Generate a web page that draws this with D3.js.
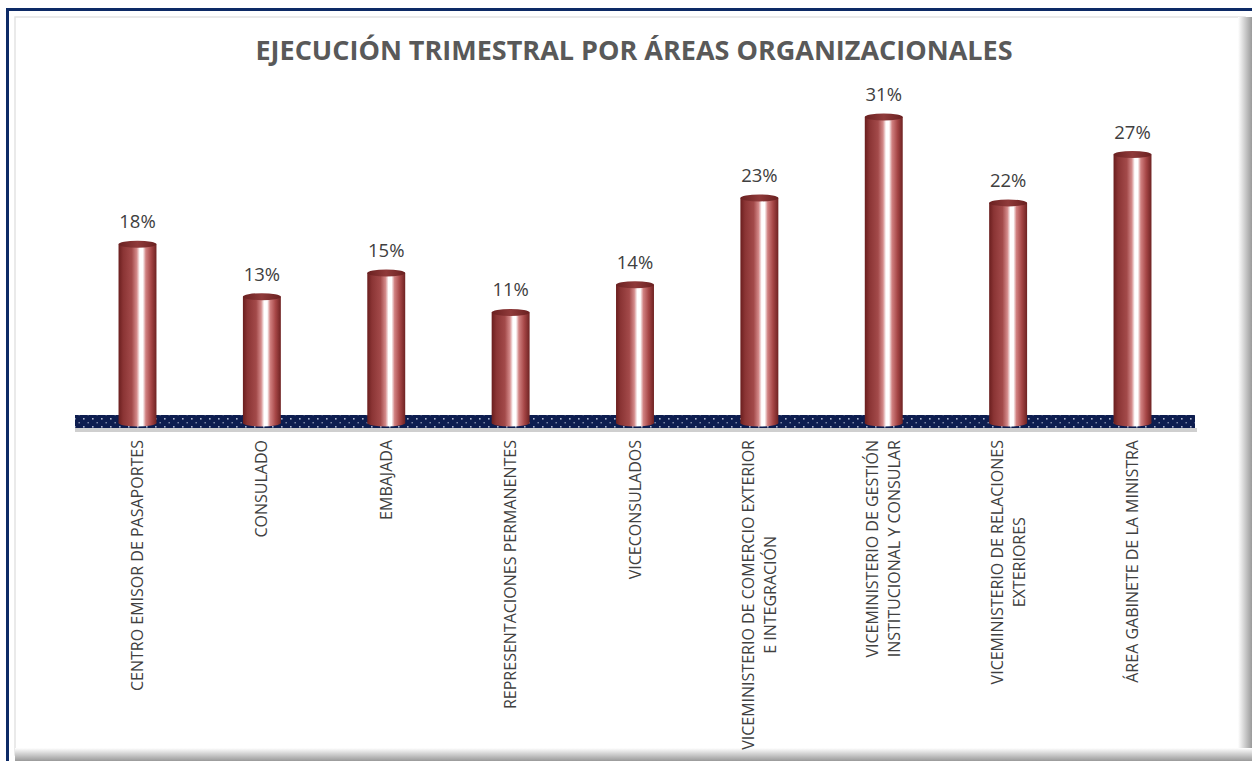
<!DOCTYPE html>
<html><head><meta charset="utf-8">
<script src="https://cdn.jsdelivr.net/npm/d3@7"></script>
<style>html,body{margin:0;padding:0;background:#fff;}svg{display:block;}</style>
</head><body>
<svg id="chart" width="1252" height="761"></svg>
<script>
const categories = [
  ["CENTRO EMISOR DE PASAPORTES"],
  ["CONSULADO"],
  ["EMBAJADA"],
  ["REPRESENTACIONES PERMANENTES"],
  ["VICECONSULADOS"],
  ["VICEMINISTERIO DE COMERCIO EXTERIOR", "E INTEGRACIÓN"],
  ["VICEMINISTERIO DE GESTIÓN", "INSTITUCIONAL Y CONSULAR"],
  ["VICEMINISTERIO DE RELACIONES", "EXTERIORES"],
  ["ÁREA GABINETE DE LA MINISTRA"]
];
const values = [18.1, 12.8, 15.2, 11.2, 14.0, 22.8, 31.0, 22.3, 27.2];
const valueLabels = ["18%", "13%", "15%", "11%", "14%", "23%", "31%", "22%", "27%"];
const title = "EJECUCIÓN TRIMESTRAL POR ÁREAS ORGANIZACIONALES";

const svg = d3.select("#chart");
const defs = svg.append("defs");

const gR = defs.append("linearGradient").attr("id","shR").attr("x1","0").attr("x2","1").attr("y1","0").attr("y2","0");
gR.append("stop").attr("offset","0").attr("stop-color","#ffffff");
gR.append("stop").attr("offset","1").attr("stop-color","#9a9a9a");
const gB = defs.append("linearGradient").attr("id","shB").attr("x1","0").attr("x2","0").attr("y1","0").attr("y2","1");
gB.append("stop").attr("offset","0").attr("stop-color","#ffffff");
gB.append("stop").attr("offset","1").attr("stop-color","#9a9a9a");

const cg = defs.append("linearGradient").attr("id","cyl").attr("x1","0").attr("x2","1").attr("y1","0").attr("y2","0");
[["0","#6a1e1e"],["0.12","#8a3434"],["0.35","#a34a4a"],["0.48","#d48a8a"],["0.56","#ffffff"],["0.64","#ffffff"],["0.72","#d08080"],["0.86","#a64646"],["1","#6e2222"]]
  .forEach(([o,c]) => cg.append("stop").attr("offset",o).attr("stop-color",c));
const tg = defs.append("linearGradient").attr("id","cap").attr("x1","0").attr("x2","1").attr("y1","0").attr("y2","0");
[["0","#6a2020"],["0.5","#8f3a3a"],["1","#6a2020"]].forEach(([o,c]) => tg.append("stop").attr("offset",o).attr("stop-color",c));

const pat = defs.append("pattern").attr("id","dots").attr("patternUnits","userSpaceOnUse").attr("width",9).attr("height",8);
pat.append("rect").attr("width",9).attr("height",8).attr("fill","#0d1d4f");
pat.append("rect").attr("x",2).attr("y",2).attr("width",1.6).attr("height",1.6).attr("fill","#aab4cc");
pat.append("rect").attr("x",6.5).attr("y",6).attr("width",1.4).attr("height",1.4).attr("fill","#8893b0");

svg.append("rect").attr("x",7.5).attr("y",9.5).attr("width",1250).attr("height",760).attr("fill","none").attr("stroke","#0d2a66").attr("stroke-width",3);
svg.append("rect").attr("x",15).attr("y",17).attr("width",1230).attr("height",738).attr("fill","#fff").attr("stroke","#e4e4e4").attr("stroke-width",1.5);
svg.append("rect").attr("x",1238).attr("y",17).attr("width",14).attr("height",744).attr("fill","url(#shR)");
svg.append("rect").attr("x",15).attr("y",748).attr("width",1237).attr("height",13).attr("fill","url(#shB)");

svg.append("text").attr("x",634).attr("y",60).attr("text-anchor","middle")
  .attr("font-family","'Open Sans', sans-serif").attr("font-weight",700).attr("font-size",27)
  .attr("fill","#595959").text(title);

const x = d3.scaleBand().domain(d3.range(categories.length)).range([75,1195]).paddingInner(0.695).paddingOuter(0.35);
const y = d3.scaleLinear().domain([0, 31]).range([423, 117]);

svg.append("rect").attr("x",75).attr("y",428).attr("width",1122).attr("height",4).attr("fill","#cfcfcf");
svg.append("rect").attr("x",75).attr("y",415).attr("width",1120).attr("height",13).attr("fill","url(#dots)");

const bw = x.bandwidth();
const ry = 3.5;
const g = svg.append("g");
const bars = g.selectAll("g.bar").data(values).join("g").attr("class","bar");
bars.append("rect")
  .attr("x",(d,i)=>x(i)).attr("y",d=>y(d)).attr("width",bw).attr("height",d=>y(0)-y(d))
  .attr("fill","url(#cyl)");
bars.append("ellipse")
  .attr("cx",(d,i)=>x(i)+bw/2).attr("cy",y(0)).attr("rx",bw/2).attr("ry",ry).attr("fill","url(#cyl)");
bars.append("ellipse")
  .attr("cx",(d,i)=>x(i)+bw/2).attr("cy",d=>y(d)).attr("rx",bw/2).attr("ry",ry).attr("fill","url(#cap)");

svg.selectAll("text.val").data(values).join("text").attr("class","val")
  .attr("x",(d,i)=>x(i)+bw/2).attr("y",d=>y(d)-16)
  .attr("text-anchor","middle").attr("font-family","'Open Sans', sans-serif").attr("font-size",18.5)
  .attr("fill","#404040").text((d,i)=>valueLabels[i]);

const lineGap = 22;
categories.forEach((lines,i) => {
  const cx = x(i)+bw/2;
  const t = svg.append("text")
    .attr("transform",`translate(${cx},440) rotate(-90)`)
    .attr("font-family","'Open Sans', sans-serif").attr("font-size",16).attr("fill","#404040");
  const n = lines.length;
  lines.forEach((ln,k) => {
    t.append("tspan").attr("x",0).attr("y",(k-(n-1)/2)*lineGap + 5.5).text(ln);
  });
  const tspans = t.selectAll("tspan").nodes();
  const widths = tspans.map(s=>s.getComputedTextLength());
  const maxW = d3.max(widths);
  tspans.forEach((s,k)=>{ d3.select(s).attr("x", -maxW/2 - widths[k]/2); });
});
</script>
</body></html>
